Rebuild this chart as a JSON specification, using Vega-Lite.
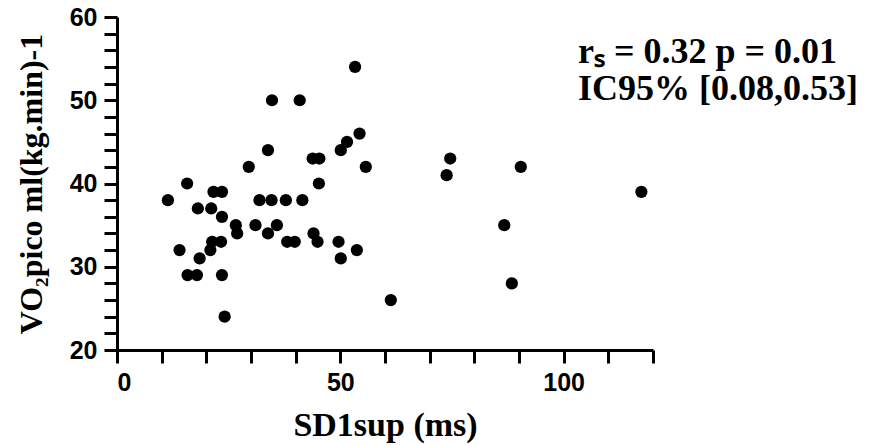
{
  "$schema": "https://vega.github.io/schema/vega-lite/v6.json",
  "autosize": {"type": "none"},
  "padding": {"left": 117, "top": 17, "right": 219, "bottom": 95},
  "width": 536,
  "height": 333,
  "background": "white",
  "title": {
    "text": ["rₛ = 0.32 p = 0.01", "IC95% [0.08,0.53]"],
    "orient": "top", "anchor": "start", "frame": "group", "dx": 461, "offset": -131,
    "baseline": "alphabetic", "lineHeight": 37,
    "font": "Liberation Serif", "fontWeight": "bold", "fontSize": 36, "color": "black"
  },
  "config": {
    "view": {"stroke": null},
    "axis": {
      "domainColor": "black", "domainWidth": 3, "tickColor": "black", "tickWidth": 3,
      "labelFont": "Liberation Sans", "labelFontWeight": "bold", "labelFontSize": 25, "labelColor": "black",
      "titleFont": "Liberation Serif", "titleFontWeight": "bold", "titleColor": "black",
      "grid": false, "labelOverlap": false, "tickSize": 13, "ticks": true
    },
    "axisY": {"ticks": true, "tickSize": 13, "tickColor": "black", "tickWidth": 3, "tickOpacity": 1}
  },
  "data": {"values": [
    {"sd1": 11.4, "vo2": 38}, {"sd1": 15.7, "vo2": 40}, {"sd1": 14.0, "vo2": 32}, {"sd1": 18.1, "vo2": 37},
    {"sd1": 21.1, "vo2": 37}, {"sd1": 21.6, "vo2": 39}, {"sd1": 23.5, "vo2": 39}, {"sd1": 23.5, "vo2": 36},
    {"sd1": 15.8, "vo2": 29}, {"sd1": 17.9, "vo2": 29}, {"sd1": 18.5, "vo2": 31}, {"sd1": 20.9, "vo2": 32},
    {"sd1": 21.3, "vo2": 33}, {"sd1": 23.3, "vo2": 33}, {"sd1": 23.5, "vo2": 29}, {"sd1": 24.1, "vo2": 24},
    {"sd1": 26.6, "vo2": 35}, {"sd1": 26.9, "vo2": 34}, {"sd1": 29.5, "vo2": 42}, {"sd1": 31.0, "vo2": 35},
    {"sd1": 31.9, "vo2": 38}, {"sd1": 34.6, "vo2": 38}, {"sd1": 33.8, "vo2": 44}, {"sd1": 34.7, "vo2": 50},
    {"sd1": 33.8, "vo2": 34}, {"sd1": 35.8, "vo2": 35}, {"sd1": 37.8, "vo2": 38}, {"sd1": 38.1, "vo2": 33},
    {"sd1": 39.8, "vo2": 33}, {"sd1": 40.9, "vo2": 50}, {"sd1": 41.5, "vo2": 38}, {"sd1": 44.0, "vo2": 34},
    {"sd1": 44.9, "vo2": 33}, {"sd1": 43.8, "vo2": 43}, {"sd1": 45.3, "vo2": 43}, {"sd1": 45.2, "vo2": 40},
    {"sd1": 49.6, "vo2": 33}, {"sd1": 50.1, "vo2": 31}, {"sd1": 50.1, "vo2": 44}, {"sd1": 51.5, "vo2": 45},
    {"sd1": 53.3, "vo2": 54}, {"sd1": 54.3, "vo2": 46}, {"sd1": 53.7, "vo2": 32}, {"sd1": 55.7, "vo2": 42},
    {"sd1": 61.3, "vo2": 26}, {"sd1": 74.6, "vo2": 43}, {"sd1": 73.8, "vo2": 41}, {"sd1": 90.4, "vo2": 42},
    {"sd1": 117.4, "vo2": 39}, {"sd1": 86.7, "vo2": 35}, {"sd1": 88.4, "vo2": 28}
  ]},
  "mark": {"type": "point", "filled": true, "shape": "circle", "size": 150, "color": "black", "opacity": 1},
  "encoding": {
    "x": {"field": "sd1", "type": "quantitative", "title": "SD1sup (ms)",
      "scale": {"domain": [0, 120], "nice": false, "zero": false},
      "axis": {"values": [0,10,20,30,40,50,60,70,80,90,100,110,120],
        "labelExpr": "datum.value % 50 === 0 ? datum.label : ''",
        "tickSize": 13, "labelOverlap": false,
        "encoding": {"ticks": {"update": {"y2": {"signal": "datum.value % 50 === 0 ? 13 : 8"}}}},
        "labelPadding": 7, "titlePadding": 13, "titleFontSize": 34}},
    "y": {"field": "vo2", "type": "quantitative", "title": "VO₂pico ml(kg.min)-1",
      "scale": {"domain": [20, 60], "nice": false, "zero": false},
      "axis": {"values": [20,22,24,26,28,30,32,34,36,38,40,42,44,46,48,50,52,54,56,58,60],
        "labelExpr": "datum.value % 10 === 0 ? datum.label : ''",
        "ticks": true, "tickSize": 13, "labelOverlap": false,
        "encoding": {"ticks": {"update": {"x2": {"signal": "datum.value % 10 === 0 ? -13 : -8"}}}},
        "labelPadding": 7, "titlePadding": 21, "titleFontSize": 32}}
  }
}
